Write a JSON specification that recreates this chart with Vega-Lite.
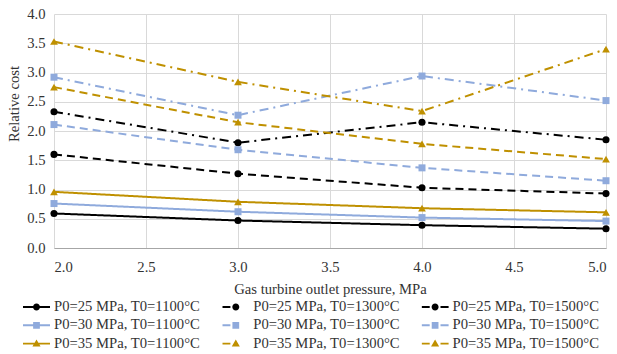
{
  "$schema": "https://vega.github.io/schema/vega-lite/v6.json",
  "width": 552,
  "height": 234,
  "autosize": "none",
  "padding": {"left": 54, "top": 14, "right": 11, "bottom": 106},
  "background": "white",
  "config": {
    "font": "Liberation Serif",
    "view": {"stroke": null},
    "axis": {"labelFont": "Liberation Serif", "titleFont": "Liberation Serif", "labelFontSize": 14.67, "titleFontSize": 14.67, "labelColor": "#333333", "titleColor": "#333333", "titleFontWeight": "normal", "gridColor": "#d9d9d9", "gridWidth": 1, "ticks": false}
  },
  "data": {
    "values": [
      {"x": 2, "y": 0.59, "p0": 25, "series": "P0=25 MPa, T0=1100°C"},
      {"x": 3, "y": 0.47, "p0": 25, "series": "P0=25 MPa, T0=1100°C"},
      {"x": 4, "y": 0.39, "p0": 25, "series": "P0=25 MPa, T0=1100°C"},
      {"x": 5, "y": 0.33, "p0": 25, "series": "P0=25 MPa, T0=1100°C"},
      {"x": 2, "y": 1.60, "p0": 25, "series": "P0=25 MPa, T0=1300°C"},
      {"x": 3, "y": 1.27, "p0": 25, "series": "P0=25 MPa, T0=1300°C"},
      {"x": 4, "y": 1.03, "p0": 25, "series": "P0=25 MPa, T0=1300°C"},
      {"x": 5, "y": 0.93, "p0": 25, "series": "P0=25 MPa, T0=1300°C"},
      {"x": 2, "y": 2.33, "p0": 25, "series": "P0=25 MPa, T0=1500°C"},
      {"x": 3, "y": 1.80, "p0": 25, "series": "P0=25 MPa, T0=1500°C"},
      {"x": 4, "y": 2.15, "p0": 25, "series": "P0=25 MPa, T0=1500°C"},
      {"x": 5, "y": 1.85, "p0": 25, "series": "P0=25 MPa, T0=1500°C"},
      {"x": 2, "y": 0.76, "p0": 30, "series": "P0=30 MPa, T0=1100°C"},
      {"x": 3, "y": 0.62, "p0": 30, "series": "P0=30 MPa, T0=1100°C"},
      {"x": 4, "y": 0.52, "p0": 30, "series": "P0=30 MPa, T0=1100°C"},
      {"x": 5, "y": 0.46, "p0": 30, "series": "P0=30 MPa, T0=1100°C"},
      {"x": 2, "y": 2.11, "p0": 30, "series": "P0=30 MPa, T0=1300°C"},
      {"x": 3, "y": 1.68, "p0": 30, "series": "P0=30 MPa, T0=1300°C"},
      {"x": 4, "y": 1.37, "p0": 30, "series": "P0=30 MPa, T0=1300°C"},
      {"x": 5, "y": 1.15, "p0": 30, "series": "P0=30 MPa, T0=1300°C"},
      {"x": 2, "y": 2.92, "p0": 30, "series": "P0=30 MPa, T0=1500°C"},
      {"x": 3, "y": 2.27, "p0": 30, "series": "P0=30 MPa, T0=1500°C"},
      {"x": 4, "y": 2.94, "p0": 30, "series": "P0=30 MPa, T0=1500°C"},
      {"x": 5, "y": 2.52, "p0": 30, "series": "P0=30 MPa, T0=1500°C"},
      {"x": 2, "y": 0.96, "p0": 35, "series": "P0=35 MPa, T0=1100°C"},
      {"x": 3, "y": 0.79, "p0": 35, "series": "P0=35 MPa, T0=1100°C"},
      {"x": 4, "y": 0.68, "p0": 35, "series": "P0=35 MPa, T0=1100°C"},
      {"x": 5, "y": 0.61, "p0": 35, "series": "P0=35 MPa, T0=1100°C"},
      {"x": 2, "y": 2.75, "p0": 35, "series": "P0=35 MPa, T0=1300°C"},
      {"x": 3, "y": 2.15, "p0": 35, "series": "P0=35 MPa, T0=1300°C"},
      {"x": 4, "y": 1.78, "p0": 35, "series": "P0=35 MPa, T0=1300°C"},
      {"x": 5, "y": 1.52, "p0": 35, "series": "P0=35 MPa, T0=1300°C"},
      {"x": 2, "y": 3.53, "p0": 35, "series": "P0=35 MPa, T0=1500°C"},
      {"x": 3, "y": 2.84, "p0": 35, "series": "P0=35 MPa, T0=1500°C"},
      {"x": 4, "y": 2.34, "p0": 35, "series": "P0=35 MPa, T0=1500°C"},
      {"x": 5, "y": 3.40, "p0": 35, "series": "P0=35 MPa, T0=1500°C"}
    ]
  },
  "encoding": {
    "x": {
      "field": "x", "type": "quantitative",
      "scale": {"domain": [2, 5], "nice": false, "zero": false},
      "axis": {"title": "Gas turbine outlet pressure, MPa", "values": [2, 2.5, 3, 3.5, 4, 4.5, 5], "format": ".1f", "labelPadding": 11, "domain": true, "domainColor": "#a6a6a6", "domainWidth": 1, "titleY": 41, "titleBaseline": "middle"}
    },
    "y": {
      "field": "y", "type": "quantitative",
      "scale": {"domain": [0, 4], "nice": false},
      "axis": {"title": "Relative cost", "values": [0, 0.5, 1, 1.5, 2, 2.5, 3, 3.5, 4], "format": ".1f", "labelPadding": 9, "domain": false, "titleX": -40, "titleY": 89.5, "titleAnchor": "middle", "titleBaseline": "middle"}
    },
    "color": {
      "field": "series", "type": "nominal",
      "scale": {
        "domain": ["P0=25 MPa, T0=1100°C", "P0=30 MPa, T0=1100°C", "P0=35 MPa, T0=1100°C", "P0=25 MPa, T0=1300°C", "P0=30 MPa, T0=1300°C", "P0=35 MPa, T0=1300°C", "P0=25 MPa, T0=1500°C", "P0=30 MPa, T0=1500°C", "P0=35 MPa, T0=1500°C"],
        "range": ["#000000", "#8FAADC", "#BF9000", "#000000", "#8FAADC", "#BF9000", "#000000", "#8FAADC", "#BF9000"]
      },
      "legend": {"title": null, "orient": "none", "legendX": -31, "legendY": 284, "columns": 3, "columnPadding": 21.3, "rowPadding": 0.3, "clipHeight": 18, "symbolSize": 729, "symbolStrokeWidth": 0, "labelFont": "Liberation Serif", "labelFontSize": 14.67, "labelColor": "#333333", "labelOffset": 4, "labelLimit": 300}
    }
  },
  "layer": [
    {
      "transform": [{"filter": "false"}],
      "mark": {"type": "point", "filled": true, "opacity": 1},
      "encoding": {
        "shape": {
          "field": "series", "type": "nominal",
          "scale": {
            "domain": ["P0=25 MPa, T0=1100°C", "P0=30 MPa, T0=1100°C", "P0=35 MPa, T0=1100°C", "P0=25 MPa, T0=1300°C", "P0=30 MPa, T0=1300°C", "P0=35 MPa, T0=1300°C", "P0=25 MPa, T0=1500°C", "P0=30 MPa, T0=1500°C", "P0=35 MPa, T0=1500°C"],
            "range": [
              "M-1,-0.07H1V0.07H-1Z M0.26,0A0.26,0.26 0 1,1 -0.26,0A0.26,0.26 0 1,1 0.26,0Z",
              "M-1,-0.07H1V0.07H-1Z M-0.25,-0.25H0.25V0.25H-0.25Z",
              "M-1,-0.07H1V0.07H-1Z M0,-0.3L0.3,0.22L-0.3,0.22Z",
              "M-1,-0.07H-0.4V0.07H-1Z M0.26,0A0.26,0.26 0 1,1 -0.26,0A0.26,0.26 0 1,1 0.26,0Z",
              "M-1,-0.07H-0.4V0.07H-1Z M-0.25,-0.25H0.25V0.25H-0.25Z",
              "M-1,-0.07H-0.4V0.07H-1Z M0,-0.3L0.3,0.22L-0.3,0.22Z",
              "M-1,-0.07H-0.4V0.07H-1Z M0.4,-0.07H1V0.07H0.4Z M0.26,0A0.26,0.26 0 1,1 -0.26,0A0.26,0.26 0 1,1 0.26,0Z",
              "M-1,-0.07H-0.4V0.07H-1Z M0.4,-0.07H1V0.07H0.4Z M-0.25,-0.25H0.25V0.25H-0.25Z",
              "M-1,-0.07H-0.4V0.07H-1Z M0.4,-0.07H1V0.07H0.4Z M0,-0.3L0.3,0.22L-0.3,0.22Z"
            ]
          }
        }
      }
    },
    {
      "mark": {"type": "line", "strokeWidth": 2},
      "encoding": {
        "strokeDash": {
          "field": "series", "type": "nominal",
          "scale": {
            "domain": ["P0=25 MPa, T0=1100°C", "P0=30 MPa, T0=1100°C", "P0=35 MPa, T0=1100°C", "P0=25 MPa, T0=1300°C", "P0=30 MPa, T0=1300°C", "P0=35 MPa, T0=1300°C", "P0=25 MPa, T0=1500°C", "P0=30 MPa, T0=1500°C", "P0=35 MPa, T0=1500°C"],
            "range": [[1, 0], [1, 0], [1, 0], [8, 5], [8, 5], [8, 5], [9, 5, 2, 5], [9, 5, 2, 5], [9, 5, 2, 5]]
          },
          "legend": null
        }
      }
    },
    {
      "transform": [{"filter": "datum.p0 == 25"}],
      "mark": {"type": "point", "shape": "circle", "filled": true, "size": 50, "opacity": 1}
    },
    {
      "transform": [{"filter": "datum.p0 == 30"}],
      "mark": {"type": "point", "shape": "square", "filled": true, "size": 49, "opacity": 1}
    },
    {
      "transform": [{"filter": "datum.p0 == 35"}],
      "mark": {"type": "point", "shape": "triangle-up", "filled": true, "size": 60, "opacity": 1}
    }
  ]
}
